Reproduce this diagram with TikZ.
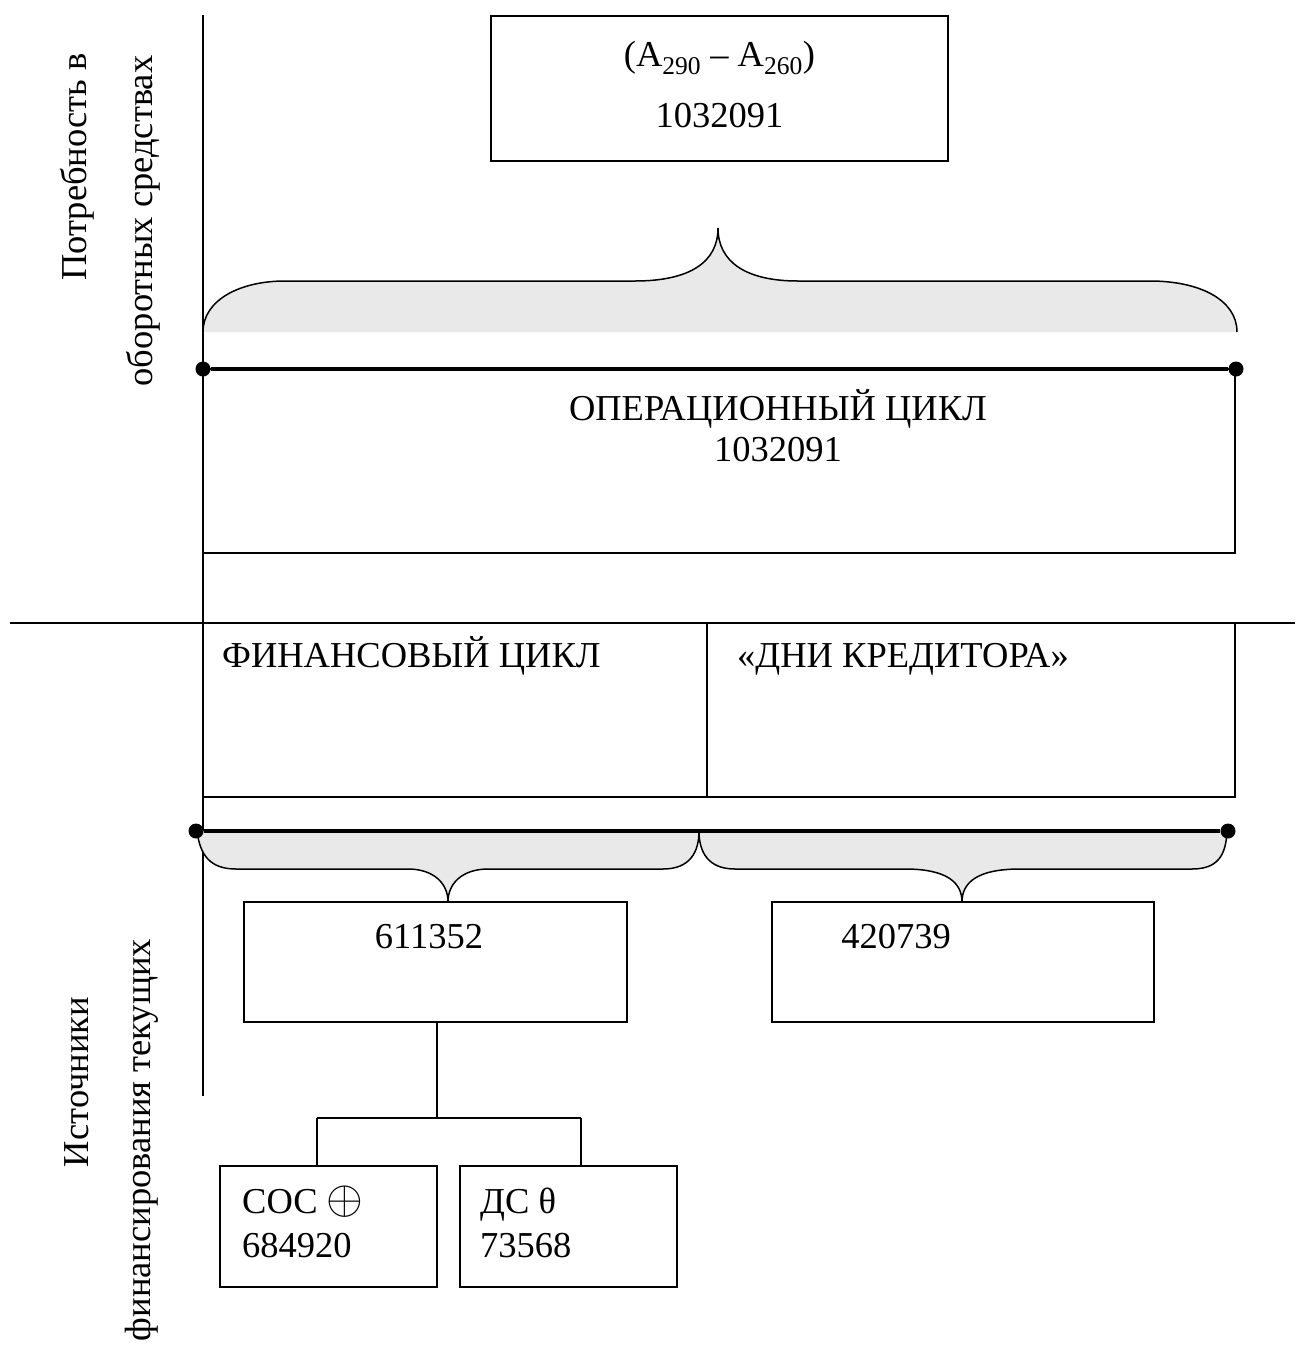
\documentclass[tikz,border=0pt]{standalone}
\usepackage{fontspec}
\usepackage{graphicx}
\setmainfont{Liberation Serif}
\definecolor{bracefill}{HTML}{E9E9E9}
\begin{document}
\begin{tikzpicture}[x=1pt,y=-1pt,
  every node/.style={font=\fontsize{36.5}{44}\selectfont, inner sep=0pt},
  boxst/.style={draw, line width=1.6pt, rectangle},
  axisst/.style={line width=1.6pt},
  linkst/.style={line width=1.6pt},
  barst/.style={line width=3.2pt},
  bracest/.style={line width=1.5pt},
  dotst/.style={circle, fill=black, minimum size=15pt, inner sep=0pt}]
\useasboundingbox (0,0) rectangle (1299,1345);

% axes
\coordinate (vtop) at (203,15);
\coordinate (vbot) at (203,1096);
\coordinate (hleft) at (10,623);
\coordinate (hright) at (1295,623);
\draw[axisst] (vtop) -- (vbot);
\draw[axisst] (hleft) -- (hright);

% top box
\node[boxst, minimum width=457pt, minimum height=145pt] (topbox) at (719.5,88.5) {};
\node[anchor=base] (toptxt1) at (719.5,66) {(A\textsubscript{290} – A\textsubscript{260})};
\node[anchor=base] (toptxt2) at (719.5,127) {1032091};

% top brace
\fill[bracefill] (203,332) .. controls (203,300) and (240,281) .. (285,281) -- (635,281)
  .. controls (690,281) and (718,262) .. (718,228)
  .. controls (718,262) and (746,281) .. (798,281) -- (1150,281)
  .. controls (1200,281) and (1237,300) .. (1237,332) -- cycle;
\draw[bracest] (203,332) .. controls (203,300) and (240,281) .. (285,281) -- (635,281)
  .. controls (690,281) and (718,262) .. (718,228)
  .. controls (718,262) and (746,281) .. (798,281) -- (1150,281)
  .. controls (1200,281) and (1237,300) .. (1237,332);

% operational cycle
\node[boxst, minimum width=1032pt, minimum height=184pt] (opbox) at (719,461) {};
\node[dotst] (d1) at (203,369) {};
\node[dotst] (d2) at (1236,369) {};
\draw[barst] (d1) -- (d2);
\node[anchor=base] (optxt1) at (778,420) {ОПЕРАЦИОННЫЙ ЦИКЛ};
\node[anchor=base] (optxt2) at (778,461) {1032091};

% financial / creditor boxes
\node[boxst, minimum width=504pt, minimum height=174pt] (finbox) at (455,710) {};
\node[boxst, minimum width=528pt, minimum height=174pt] (dnibox) at (971,710) {};
\node[anchor=base west] (fintxt) at (222,667) {ФИНАНСОВЫЙ ЦИКЛ};
\node[anchor=base west] (dnitxt) at (737,667) {«ДНИ КРЕДИТОРА»};

% lower braces
\fill[bracefill] (197,831) .. controls (200,855) and (210,869) .. (236,869) -- (408,869)
  .. controls (432,869) and (448,882) .. (448,902)
  .. controls (448,882) and (464,869) .. (488,869) -- (663,869)
  .. controls (690,869) and (699,852) .. (699,831)
  .. controls (699,852) and (708,869) .. (735,869) -- (905,869)
  .. controls (946,869) and (962,882) .. (962,902)
  .. controls (962,882) and (978,869) .. (1020,869) -- (1192,869)
  .. controls (1218,869) and (1226,855) .. (1227,831) -- cycle;
\draw[bracest] (197,831) .. controls (200,855) and (210,869) .. (236,869) -- (408,869)
  .. controls (432,869) and (448,882) .. (448,902)
  .. controls (448,882) and (464,869) .. (488,869) -- (663,869)
  .. controls (690,869) and (699,852) .. (699,831)
  .. controls (699,852) and (708,869) .. (735,869) -- (905,869)
  .. controls (946,869) and (962,882) .. (962,902)
  .. controls (962,882) and (978,869) .. (1020,869) -- (1192,869)
  .. controls (1218,869) and (1226,855) .. (1227,831);
\node[dotst] (d3) at (196,831) {};
\node[dotst] (d4) at (1228,831) {};
\draw[barst] (d3) -- (d4);

% source boxes
\node[boxst, minimum width=383pt, minimum height=120pt] (b611) at (435.5,962) {};
\node[boxst, minimum width=382pt, minimum height=120pt] (b420) at (963,962) {};
\node[anchor=base] (t611) at (429,948) {611352};
\node[anchor=base] (t420) at (896,948) {420739};

% tree
\node[boxst, minimum width=217pt, minimum height=121pt] (sos) at (328.5,1226.5) {};
\node[boxst, minimum width=217pt, minimum height=121pt] (ds) at (568.5,1226.5) {};
\coordinate (tj) at (437,1118);
\coordinate (tl) at (317,1118);
\coordinate (tr) at (581,1118);
\draw[linkst] (b611.south -| tj) -- (tj);
\draw[linkst] (tl) -- (tr);
\draw[linkst] (tl) -- (tl |- sos.north);
\draw[linkst] (tr) -- (tr |- ds.north);
\node[anchor=base west] (sos1) at (242,1213) {СОС \scalebox{1.9}{$\oplus$}};
\node[anchor=base west] (sos2) at (242,1257) {684920};
\node[anchor=base west] (ds1) at (480,1213) {ДС θ};
\node[anchor=base west] (ds2) at (480,1257) {73568};

% side labels
\node[rotate=90] (lab1) at (77,167) {Потребность в};
\node[rotate=90] (lab2) at (143,221) {оборотных средствах};
\node[rotate=90] (lab3) at (77,1082) {Источники};
\node[rotate=90] (lab4) at (142,1140) {финансирования текущих};
\end{tikzpicture}
\end{document}
